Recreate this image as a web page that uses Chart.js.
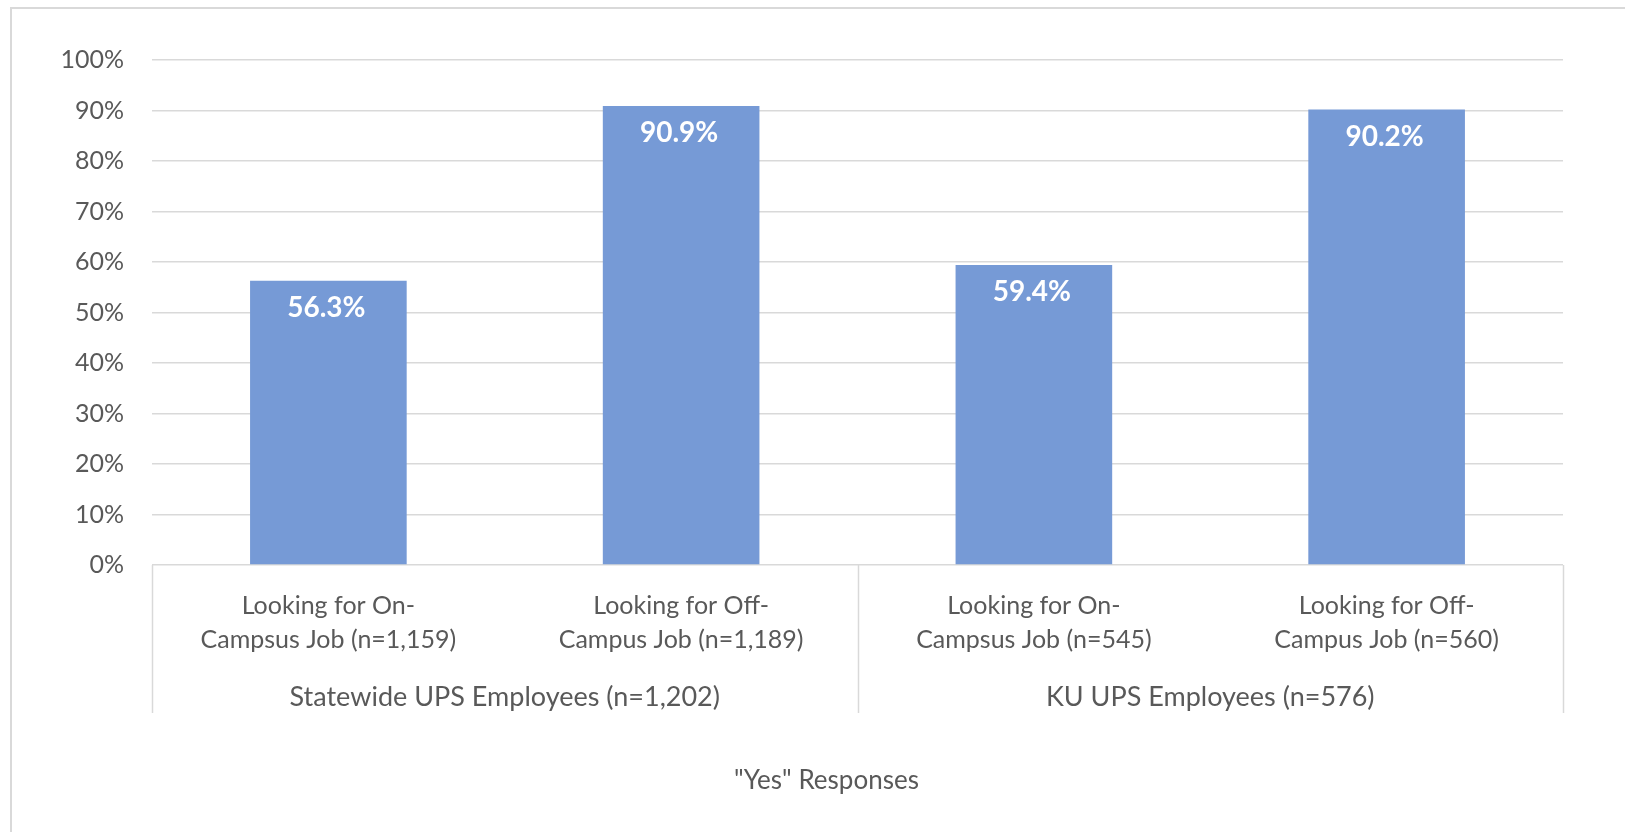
<!DOCTYPE html>
<html>
<head>
<meta charset="utf-8">
<script src="https://cdn.jsdelivr.net/npm/chart.js@4.4.1/dist/chart.umd.min.js"></script>
<style>
  html, body { margin: 0; padding: 0; background: #ffffff; }
  #wrap { position: relative; width: 1625px; height: 832px; }
  canvas { display: block; }
</style>
</head>
<body>
<div id="wrap"><canvas id="c" width="1625" height="832"></canvas></div>
<script>
// Sub-categories (two-line labels), grouped by respondent population
const categories = [
  ["Looking for On-", "Campsus Job (n=1,159)"],
  ["Looking for Off-", "Campus Job (n=1,189)"],
  ["Looking for On-", "Campsus Job (n=545)"],
  ["Looking for Off-", "Campus Job (n=560)"]
];
// Share of "Yes" answers, percent
const yesShare = [56.3, 90.9, 59.4, 90.2];
// Group labels; each group spans two sub-categories
const groups = ["Statewide UPS Employees (n=1,202)", "KU UPS Employees (n=576)"];
const groupSize = 2;
// Value axis ticks
const yTicks = [0, 10, 20, 30, 40, 50, 60, 70, 80, 90, 100];
const axisTitle = '"Yes" Responses';

const FONT = "Lato, 'Open Sans', sans-serif";
const TEXT = '#595959';
const GRID = '#d9d9d9';
const BAR = '#769ad6';

// Frame, group separators, group labels, axis title and value labels
const decorations = {
  id: 'decorations',
  beforeDraw(chart) {
    const ctx = chart.ctx;
    ctx.save();
    ctx.strokeStyle = GRID;
    ctx.lineWidth = 2;
    ctx.beginPath();
    ctx.moveTo(11, chart.height);
    ctx.lineTo(11, 8);
    ctx.lineTo(chart.width, 8);
    ctx.stroke();
    ctx.restore();
  },
  afterDraw(chart) {
    const ctx = chart.ctx;
    const x = chart.scales.x;
    const area = chart.chartArea;
    const n = categories.length;
    const step = (x.right - x.left) / n;
    ctx.save();

    // vertical separators between groups, below the axis line
    ctx.strokeStyle = GRID;
    ctx.lineWidth = 1.5;
    for (let i = 0; i <= n; i += groupSize) {
      const px = Math.round(x.getPixelForTick(Math.min(i, n - 1)) + (i < n ? -step / 2 : step / 2)) + 0.5;
      ctx.beginPath();
      ctx.moveTo(px, area.bottom);
      ctx.lineTo(px, 713);
      ctx.stroke();
    }

    // group labels centred under their sub-categories
    ctx.fillStyle = TEXT;
    ctx.font = '27px ' + FONT;
    ctx.textAlign = 'center';
    ctx.textBaseline = 'middle';
    groups.forEach((g, gi) => {
      const a = x.getPixelForTick(gi * groupSize);
      const b = x.getPixelForTick(gi * groupSize + groupSize - 1);
      ctx.fillText(g, (a + b) / 2, 697);
    });

    // axis title
    ctx.font = '26px ' + FONT;
    ctx.fillText(axisTitle, chart.width / 2 + 14, 781);

    // value labels inside the bars
    const meta = chart.getDatasetMeta(0);
    ctx.fillStyle = '#ffffff';
    ctx.font = 'bold 28px ' + FONT;
    meta.data.forEach((bar, i) => {
      ctx.fillText(yesShare[i].toFixed(1) + '%', bar.x - 2, bar.y + 27);
    });
    ctx.restore();
  }
};

new Chart(document.getElementById('c'), {
  type: 'bar',
  data: {
    labels: categories,
    datasets: [{
      data: yesShare,
      backgroundColor: BAR,
      borderWidth: 0,
      categoryPercentage: 1,
      barPercentage: 0.444
    }]
  },
  options: {
    responsive: false,
    animation: false,
    devicePixelRatio: 1,
    layout: { padding: { left: 0, top: 60, right: 62, bottom: 0 } },
    plugins: { legend: { display: false }, tooltip: { enabled: false }, title: { display: false } },
    scales: {
      x: {
        grid: { display: false },
        border: { display: false },
        ticks: {
          color: TEXT,
          font: { family: FONT, size: 25, lineHeight: 1.36 },
          padding: 16,
          maxRotation: 0,
          autoSkip: false
        },
        afterFit(scale) { scale.height = 832 - 565; }
      },
      y: {
        min: 0,
        max: 100,
        afterBuildTicks(scale) { scale.ticks = yTicks.map(v => ({ value: v })); },
        grid: { color: GRID, lineWidth: 1.5, drawTicks: false },
        border: { display: false },
        ticks: {
          color: TEXT,
          font: { family: FONT, size: 25 },
          padding: 28,
          callback: v => v + '%'
        },
        afterFit(scale) { scale.width = 152; }
      }
    }
  },
  plugins: [decorations]
});
</script>
</body>
</html>
